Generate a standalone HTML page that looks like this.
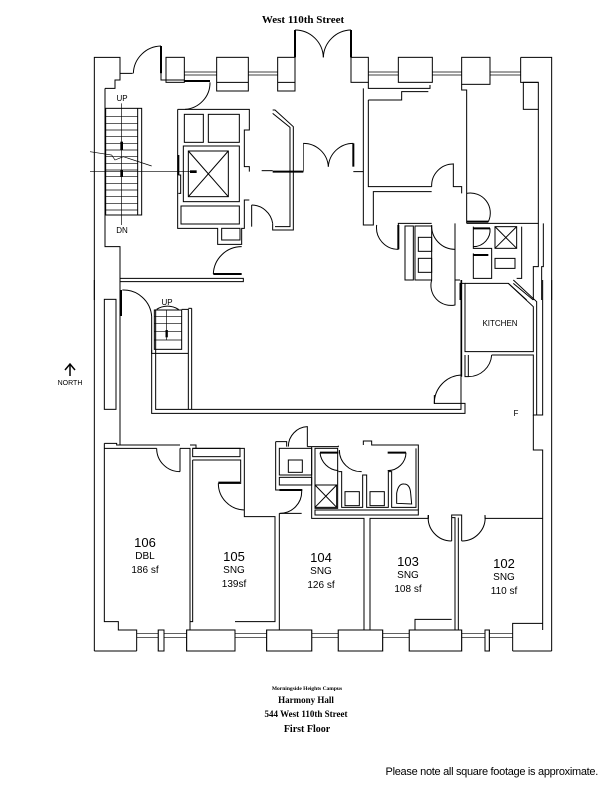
<!DOCTYPE html>
<html><head><meta charset="utf-8"><style>
html,body{margin:0;padding:0;background:#fff}
body{width:612px;height:792px;position:relative;overflow:hidden}
svg{position:absolute;left:0;top:0}
.s{font-family:"Liberation Serif",serif;font-weight:bold;fill:#000}
.a{font-family:"Liberation Sans",sans-serif;fill:#000}
</style></head><body>
<svg width="612" height="792" viewBox="0 0 612 792">
<text class="s" x="303" y="23" font-size="11" text-anchor="middle">West 110th Street</text>

<g transform="translate(90,20) scale(0.33333)" fill="none" stroke="#000" stroke-width="3">
<polyline points="13,840 13,112 90,112 90,160 128,160"/>
<path d="M130,160 A85,85 0 0 1 213,78"/>
<line x1="213" y1="78" x2="213" y2="160" stroke-width="6"/>
<polyline points="213,160 213,180 283,180"/>
<rect x="228" y="112" width="55" height="75"/>
<rect x="380" y="112" width="95" height="101"/><line x1="380" y1="187" x2="475" y2="187"/>
<rect x="563" y="112" width="52" height="101"/><line x1="563" y1="187" x2="615" y2="187"/>
<rect x="783" y="112" width="52" height="75"/>
<rect x="925" y="112" width="102" height="75"/>
<rect x="1115" y="112" width="85" height="81"/>
<polyline points="1292,112 1385,112 1385,840"/>
<polyline points="1292,112 1292,187 1345,187"/>
<rect x="1300" y="187" width="45" height="81"/>
<g stroke-width="2"><line x1="283" y1="156" x2="380" y2="156"/><line x1="283" y1="165" x2="380" y2="165"/>
<line x1="475" y1="156" x2="563" y2="156"/><line x1="475" y1="165" x2="563" y2="165"/>
<line x1="835" y1="156" x2="925" y2="156"/><line x1="835" y1="165" x2="925" y2="165"/>
<line x1="1027" y1="156" x2="1115" y2="156"/><line x1="1027" y1="165" x2="1115" y2="165"/>
<line x1="1200" y1="156" x2="1292" y2="156"/><line x1="1200" y1="165" x2="1292" y2="165"/></g>
<line x1="283" y1="183" x2="360" y2="183" stroke-width="6"/>
<path d="M360,187 A80,80 0 0 1 285,268"/>
<line x1="615" y1="30" x2="615" y2="112" stroke-width="6"/>
<line x1="783" y1="30" x2="783" y2="112" stroke-width="6"/>
<path d="M615,30 A85,85 0 0 1 700,112"/><path d="M783,30 A85,85 0 0 0 700,112"/>
<polyline points="45,205 75,205 75,180 90,180 90,160"/>
<polyline points="45,205 45,680 90,680 90,840"/>
<rect x="47" y="265" width="108" height="320"/>
<line x1="143" y1="265" x2="143" y2="585"/>
<g stroke-width="2">
<line x1="47" y1="290" x2="143" y2="290"/><line x1="47" y1="310" x2="143" y2="310"/><line x1="47" y1="330" x2="143" y2="330"/><line x1="47" y1="350" x2="143" y2="350"/><line x1="47" y1="370" x2="143" y2="370"/><line x1="47" y1="390" x2="143" y2="390"/><line x1="47" y1="410" x2="143" y2="410"/><line x1="47" y1="430" x2="143" y2="430"/><line x1="47" y1="450" x2="143" y2="450"/><line x1="47" y1="470" x2="143" y2="470"/><line x1="47" y1="490" x2="143" y2="490"/><line x1="47" y1="510" x2="143" y2="510"/><line x1="47" y1="530" x2="143" y2="530"/><line x1="47" y1="550" x2="143" y2="550"/><line x1="47" y1="570" x2="143" y2="570"/>
<line x1="95" y1="250" x2="95" y2="615"/>
<line x1="0" y1="455" x2="310" y2="455"/>
<polyline points="0,395 65,405 75,420 100,410 185,438"/></g>
<line x1="95" y1="365" x2="95" y2="390" stroke-width="8"/><line x1="95" y1="450" x2="95" y2="470" stroke-width="8"/>
<line x1="300" y1="455" x2="320" y2="455" stroke-width="8"/>
<polyline points="263,268 478,268 478,330 463,330 463,440 478,440 478,455"/>
<polyline points="478,540 463,540 463,625 455,625 455,673 383,673 383,625 263,625 263,268"/>
<rect x="283" y="283" width="57" height="84"/><rect x="355" y="283" width="93" height="84"/>
<rect x="280" y="378" width="168" height="167"/><rect x="295" y="393" width="120" height="137"/>
<line x1="295" y1="393" x2="415" y2="530"/><line x1="415" y1="393" x2="295" y2="530"/>
<rect x="273" y="558" width="175" height="54"/><rect x="395" y="625" width="55" height="35"/>
<line x1="265" y1="405" x2="265" y2="465" stroke-width="6"/><polyline points="265,465 272,465 272,520 265,520"/>
<polyline points="548,270 555,270 610,320 610,630 548,630 548,610"/>
<polyline points="548,280 600,322 600,620 555,620"/>
<path d="M548,610 A65,65 0 0 0 485,555"/><line x1="485" y1="555" x2="485" y2="620"/>
<line x1="548" y1="455" x2="640" y2="455" stroke-width="6"/><line x1="515" y1="452" x2="548" y2="452"/>
<line x1="640" y1="370" x2="640" y2="455" stroke-width="2"/>
<line x1="790" y1="370" x2="790" y2="440" stroke-width="6"/>
<path d="M640,370 A75,75 0 0 1 715,440"/><path d="M790,370 A75,75 0 0 0 715,440"/>
<polyline points="90,775 460,775 460,785 90,785"/>
<line x1="370" y1="762" x2="455" y2="762" stroke-width="6"/>
<path d="M370,762 A85,85 0 0 1 455,680"/>
<polyline points="835,187 835,205 1020,205 1020,195"/>
<polyline points="820,205 820,455 790,455"/>
<polyline points="835,240 935,240 935,215 1015,215"/>
<polyline points="835,240 835,500 1025,500"/>
<polyline points="1090,430 1090,500 1115,500 1115,520"/>
<path d="M1025,500 A65,65 0 0 1 1090,432"/>
<polyline points="1115,193 1115,210 1130,210 1130,610"/>
<polyline points="1345,268 1345,610 1130,610"/>
<polyline points="1345,610 1345,740 1330,740 1330,840"/>
<polyline points="1360,610 1360,740 1355,740 1355,840"/>
<polyline points="820,455 820,615 850,615 850,515 1025,515"/>
<path d="M860,615 A65,65 0 0 0 925,688"/><line x1="925" y1="615" x2="925" y2="688" stroke-width="6"/>
<polyline points="925,688 925,610 1025,610"/>
<path d="M1130,520 A60,60 0 0 1 1195,605"/><line x1="1130" y1="605" x2="1195" y2="605" stroke-width="6"/>
<polyline points="1095,610 1095,780 1110,780"/>
<rect x="945" y="618" width="25" height="162"/><rect x="975" y="618" width="50" height="162"/>
<rect x="985" y="652" width="40" height="42"/><rect x="985" y="715" width="40" height="42"/>
<path d="M1025,615 A70,70 0 0 0 1095,688"/>
<rect x="1215" y="620" width="65" height="65"/><line x1="1215" y1="620" x2="1280" y2="685"/><line x1="1280" y1="620" x2="1215" y2="685"/>
<polyline points="1150,620 1150,685 1205,685 1205,775 1150,775 1150,700"/>
<line x1="1150" y1="625" x2="1200" y2="625" stroke-width="6"/><line x1="1150" y1="705" x2="1195" y2="705" stroke-width="6"/>
<path d="M1200,625 A50,50 0 0 1 1150,680"/>
<path d="M1215,715 L1275,715 L1275,745 L1215,745 Z"/>
<polyline points="1295,620 1295,775 1280,775"/>
<polyline points="1110,840 1110,790 1125,790 1125,840"/>
<polyline points="1255,790 1310,840"/><polyline points="1270,790 1330,840"/>
</g>

<g transform="translate(90,280) scale(0.33333)" fill="none" stroke="#000" stroke-width="3">
<line x1="13" y1="0" x2="13" y2="1113"/>
<line x1="1385" y1="0" x2="1385" y2="1113"/>
<line x1="13" y1="1113" x2="140" y2="1113"/>
<line x1="1268" y1="1113" x2="1385" y2="1113"/>
<line x1="90" y1="0" x2="90" y2="495"/>
<rect x="43" y="58" width="35" height="330"/>
<line x1="93" y1="30" x2="93" y2="108" stroke-width="6"/>
<path d="M97,30 A85,85 0 0 1 185,110"/>
<polyline points="185,110 185,400 1125,400 1125,370 1033,370"/>
<polyline points="197,88 197,388 1113,388 1113,0"/>
<path d="M200,88 A60,60 0 0 1 265,88 L265,90"/>
<rect x="193" y="90" width="82" height="118"/>
<g stroke-width="2"><line x1="193" y1="110" x2="275" y2="110"/><line x1="193" y1="130" x2="275" y2="130"/><line x1="193" y1="155" x2="275" y2="155"/><line x1="193" y1="180" x2="275" y2="180"/><line x1="230" y1="90" x2="230" y2="180"/></g>
<line x1="230" y1="150" x2="230" y2="172" stroke-width="7"/>
<polyline points="275,88 295,88 295,388"/><polyline points="185,210 185,220 295,220"/>
<polyline points="305,85 305,388"/><polyline points="295,85 305,85"/>
<path d="M1033,370 A85,85 0 0 1 1115,285"/>
<line x1="1033" y1="345" x2="1033" y2="372"/>
<polyline points="1125,10 1255,10 1330,80 1330,215 1125,215 1125,10"/>
<polyline points="1115,0 1115,290"/>
<polyline points="1125,225 1125,290 1135,290"/><polyline points="1135,225 1135,290"/>
<polyline points="1205,225 1330,225 1330,405 1358,405 1358,0"/>
<polyline points="1270,0 1340,65 1340,405"/>
<path d="M1135,290 A70,70 0 0 0 1205,225"/>
<path d="M1025,0 A60,60 0 0 0 1095,75 L1095,0"/>
<polyline points="1330,405 1330,510 1358,510 1358,1050"/>
<polyline points="43,490 80,490 80,495 270,495"/>
<polyline points="43,505 200,505"/>
<path d="M200,505 A70,70 0 0 0 270,575"/><line x1="270" y1="505" x2="270" y2="575"/>
<polyline points="43,490 43,1025 85,1025 85,1050 140,1050 140,1113"/>
<polyline points="270,505 300,505 300,1050"/><polyline points="300,495 318,495 318,505"/>
<polyline points="308,505 463,505 463,710 555,710 555,1025 435,1025"/>
<rect x="308" y="505" width="142" height="25"/>
<polyline points="308,540 452,540 452,610 385,610"/>
<line x1="385" y1="608" x2="450" y2="608" stroke-width="6"/>
<path d="M385,610 A80,80 0 0 0 463,690"/>
<polyline points="308,540 308,1025 300,1025"/>
<polyline points="568,700 635,700"/><polyline points="568,700 568,1050"/>
<path d="M635,632 A65,65 0 0 1 570,700"/>
<polyline points="557,485 590,485 590,500"/>
<polyline points="557,485 557,630 568,630"/>
<line x1="568" y1="630" x2="637" y2="630" stroke-width="6"/>
<path d="M595,500 A60,60 0 0 1 652,440 L652,500"/>
<rect x="568" y="505" width="97" height="80"/><rect x="595" y="540" width="42" height="37"/>
<rect x="568" y="592" width="97" height="23"/>
<polyline points="665,500 665,715 822,715 822,1050"/>
<polyline points="840,1050 840,715 1015,715 1015,705"/>
<polyline points="652,500 745,500 745,497"/><polyline points="820,495 820,483 845,483 845,495 985,495 985,690"/>
<rect x="675" y="690" width="310" height="15"/>
<rect x="675" y="505" width="68" height="180"/><rect x="675" y="615" width="65" height="67"/>
<line x1="675" y1="615" x2="740" y2="682"/><line x1="740" y1="615" x2="675" y2="682"/>
<line x1="690" y1="518" x2="745" y2="518" stroke-width="6"/><path d="M690,518 A60,60 0 0 0 745,572"/>
<path d="M748,510 A65,65 0 0 0 815,575"/>
<polyline points="745,575 755,575 755,682 818,682 818,585 830,585 830,682 895,682 895,575 905,575 905,682 978,682 978,505"/>
<rect x="765" y="635" width="43" height="42"/><rect x="840" y="635" width="43" height="42"/>
<line x1="893" y1="518" x2="948" y2="518" stroke-width="6"/><path d="M948,518 A55,55 0 0 1 893,572"/>
<path d="M920,670 L920,640 Q925,610 942,612 Q960,612 962,640 L965,672 Z"/>
<polyline points="1015,705 1015,715"/>
<path d="M1015,705 A70,70 0 0 0 1085,783"/>
<polyline points="1085,783 1085,705 1115,705 1115,783"/>
<path d="M1185,705 A70,70 0 0 1 1115,783"/>
<polyline points="1185,705 1185,715 1358,715"/>
<polyline points="1085,713 1095,713 1095,1050"/><polyline points="1105,713 1105,1050"/>
<polyline points="975,1050 975,1018 1085,1018"/><polyline points="1268,1050 1268,1030 1358,1030"/>
<rect x="205" y="1050" width="17" height="63"/><rect x="290" y="1050" width="145" height="63"/>
<rect x="530" y="1050" width="135" height="63"/><rect x="745" y="1050" width="133" height="63"/>
<rect x="958" y="1050" width="157" height="63"/><rect x="1185" y="1050" width="13" height="63"/>
<polyline points="1268,1050 1268,1113"/>
<g stroke-width="2">
<line x1="140" y1="1060" x2="1268" y2="1060"/><line x1="140" y1="1072" x2="1268" y2="1072"/></g>
</g>
<g fill="#fff" stroke="#000" stroke-width="1">
<rect x="158.3" y="630" width="5.7" height="21"/><rect x="186.7" y="630" width="48.3" height="21"/>
<rect x="266.7" y="630" width="45" height="21"/><rect x="338.3" y="630" width="44.3" height="21"/>
<rect x="409.3" y="630" width="52.3" height="21"/><rect x="485" y="630" width="4.3" height="21"/>
</g>

<g stroke="#000" stroke-width="1.5" fill="none">
<line x1="70" y1="365" x2="70" y2="376"/><polyline points="65,370 70,364 75,370"/>
</g>
<text class="a" x="70" y="385" font-size="7" text-anchor="middle">NORTH</text>
<text class="a" x="122" y="101" font-size="8" text-anchor="middle">UP</text>
<text class="a" x="122" y="233" font-size="8" text-anchor="middle">DN</text>
<text class="a" x="167" y="305" font-size="8" text-anchor="middle">UP</text>
<text class="a" x="500" y="326" font-size="8" text-anchor="middle">KITCHEN</text>
<text class="a" x="516" y="416" font-size="8" text-anchor="middle">F</text>

<g class="a" text-anchor="middle">
<text x="145" y="547" font-size="13">106</text><text x="145" y="559" font-size="10">DBL</text><text x="145" y="573" font-size="10">186 sf</text>
<text x="234" y="561" font-size="13">105</text><text x="234" y="573" font-size="10">SNG</text><text x="234" y="587" font-size="10">139sf</text>
<text x="321" y="562" font-size="13">104</text><text x="321" y="574" font-size="10">SNG</text><text x="321" y="588" font-size="10">126 sf</text>
<text x="408" y="566" font-size="13">103</text><text x="408" y="578" font-size="10">SNG</text><text x="408" y="592" font-size="10">108 sf</text>
<text x="504" y="568" font-size="13">102</text><text x="504" y="580" font-size="10">SNG</text><text x="504" y="594" font-size="10">110 sf</text>
</g>

<g class="s" text-anchor="middle">
<text x="307" y="690" font-size="5.5">Morningside Heights Campus</text>
<text x="306" y="703" font-size="9">Harmony Hall</text>
<text x="306" y="717" font-size="9">544 West 110th Street</text>
<text x="307" y="732" font-size="10">First Floor</text>
</g>
<text class="a" x="598" y="775" font-size="11" text-anchor="end" letter-spacing="-0.3">Please note all square footage is approximate.</text>
</svg>
</body></html>
